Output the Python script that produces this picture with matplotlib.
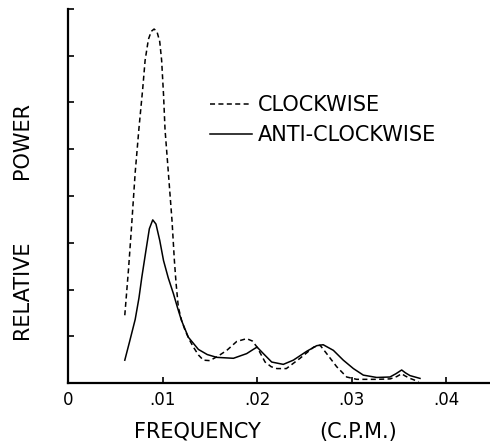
import matplotlib
matplotlib.use('Agg')
import matplotlib.pyplot as plt

# clockwise spectrum (dashed)
cw_freq  = [0.0060, 0.0064, 0.0067, 0.0071, 0.0075, 0.0079, 0.00815, 0.0085, 0.0088, 0.0091,
            0.0094, 0.0097, 0.0099, 0.0101, 0.01026, 0.0106, 0.0110, 0.01125, 0.01143, 0.01167,
            0.0120, 0.01238, 0.0128, 0.01326, 0.0138, 0.01432, 0.0150, 0.0159, 0.0168, 0.01785,
            0.0189, 0.0195, 0.0200, 0.02085, 0.0215, 0.0221, 0.0231, 0.02455, 0.0260, 0.02667,
            0.02737, 0.02843, 0.02949, 0.03055, 0.0327, 0.0341, 0.0348, 0.0353, 0.0357, 0.0362,
            0.0371]
cw_power = [1.45, 2.45, 3.3, 4.5, 5.45, 6.3, 6.9, 7.35, 7.52, 7.57,
            7.52, 7.3, 6.9, 6.17, 5.42, 4.53, 3.47, 2.62, 2.13, 1.62,
            1.35, 1.13, 0.94, 0.77, 0.6, 0.49, 0.48, 0.58, 0.7, 0.89,
            0.95, 0.9, 0.77, 0.45, 0.35, 0.31, 0.31, 0.53, 0.77, 0.81,
            0.63, 0.35, 0.13, 0.08, 0.08, 0.09, 0.14, 0.2, 0.15, 0.1,
            0.03]

# anti-clockwise spectrum (solid)
acw_freq  = [0.0060, 0.0065, 0.0071, 0.0075, 0.0078, 0.00825, 0.0086, 0.00896, 0.0093, 0.0097,
             0.0101, 0.0106, 0.01115, 0.0116, 0.0120, 0.01273, 0.01379, 0.01473, 0.01573, 0.0175,
             0.0189, 0.0196, 0.0200, 0.02067, 0.02155, 0.02278, 0.02384, 0.02526, 0.02632, 0.0270,
             0.02808, 0.02913, 0.0302, 0.03125, 0.03267, 0.03407, 0.0347, 0.03531, 0.0357, 0.03619,
             0.03725]
acw_power = [0.49, 0.88, 1.36, 1.82, 2.26, 2.85, 3.3, 3.49, 3.4, 3.05,
             2.62, 2.25, 1.91, 1.6, 1.34, 0.98, 0.72, 0.61, 0.55, 0.53,
             0.63, 0.72, 0.77, 0.63, 0.45, 0.4, 0.49, 0.68, 0.8, 0.82,
             0.7, 0.49, 0.31, 0.17, 0.12, 0.13, 0.2, 0.28, 0.22, 0.16,
             0.1]

xticks = [0, 0.01, 0.02, 0.03, 0.04]
xticklabels = ['0', '.01', '.02', '.03', '.04']
yticks = [1, 2, 3, 4, 5, 6, 7, 8]

fig = plt.figure(figsize=(4.9, 4.47), dpi=100)
ax = fig.add_axes([0.139, 0.143, 0.861, 0.837])

ax.plot(cw_freq, cw_power, color='black', lw=1.1, dashes=(3.3, 2.2), label='CLOCKWISE')
ax.plot(acw_freq, acw_power, color='black', lw=1.1, label='ANTI-CLOCKWISE')

ax.set_xlim(0, 0.04466)
ax.set_ylim(0, 7.96)
ax.spines['top'].set_visible(False)
ax.spines['right'].set_visible(False)
ax.spines['left'].set_linewidth(1.6)
ax.spines['bottom'].set_linewidth(1.6)

ax.set_xticks(xticks)
ax.set_xticklabels(xticklabels, fontsize=12)
ax.set_yticks(yticks)
ax.set_yticklabels([])
ax.tick_params(direction='in', length=4, width=1.2, pad=6)
for t in ax.yaxis.get_majorticklines():
    t.set_clip_on(False)

# axis labels placed like the original lettering
fig.text(197/490, 1 - 432/447, 'FREQUENCY', fontsize=15, ha='center', va='center')
fig.text(358/490, 1 - 432/447, '(C.P.M.)', fontsize=15, ha='center', va='center')
fig.text(22/490, 1 - 290/447, 'RELATIVE', fontsize=15, rotation=90, ha='center', va='center')
fig.text(22/490, 1 - 140/447, 'POWER', fontsize=15, rotation=90, ha='center', va='center')

ax.legend(loc='upper left', bbox_to_anchor=(210/490, 1 - 95/447), bbox_transform=fig.transFigure,
          frameon=False, fontsize=15, handlelength=2.0, handletextpad=0.3,
          labelspacing=0.5, borderpad=0, borderaxespad=0)

fig.savefig('out.png', dpi=100)
